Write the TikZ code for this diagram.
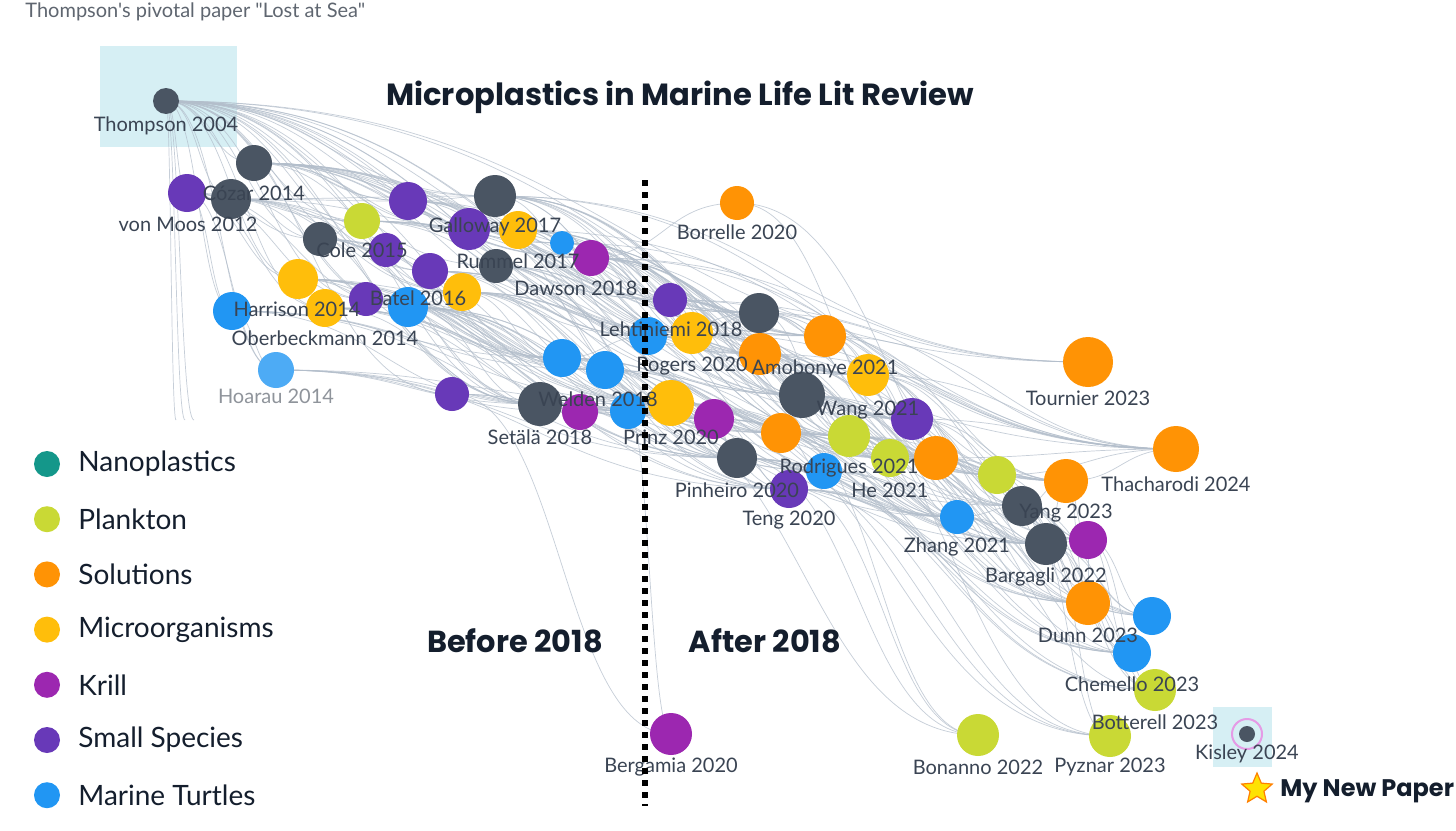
\documentclass[tikz,border=0pt]{standalone}
\usepackage{fontspec}
\setmainfont{Lato}
\newfontfamily\headfont{Poppins}
\newfontfamily\capfont{Lato}[Ligatures=TeXOff]
\usetikzlibrary{calc,backgrounds,shapes.geometric}
\definecolor{cdark}{HTML}{4A5563}
\definecolor{clime}{HTML}{C9D935}
\definecolor{corange}{HTML}{FF9305}
\definecolor{cyellow}{HTML}{FFBE0B}
\definecolor{ckrill}{HTML}{9C27B0}
\definecolor{csmall}{HTML}{6839B8}
\definecolor{cblue}{HTML}{2196F3}
\definecolor{cteal}{HTML}{14978A}
\definecolor{cedge}{HTML}{B3BECB}
\definecolor{ctext}{HTML}{3A4453}
\definecolor{cnavy}{HTML}{141E2D}
\definecolor{chl}{HTML}{D6EFF4}
\definecolor{cring}{HTML}{E59BE6}
\definecolor{cgraytxt}{HTML}{5F6670}
\newcommand\mknode[5]{\node[paper,fill=#4,minimum size=#5pt] (#1) at (#2,#3) {};}
\newcommand\mklab[4]{\node[lab] (#1) at (#2,#3) {#4};}
\newcommand\ed[2]{\draw[edge] let \p1=(#1), \p2=(#2) in (\p1) .. controls ({0.5*\x1+0.5*\x2},\y1) and ({0.5*\x1+0.5*\x2},\y2) .. (\p2);}
\tikzset{
  paper/.style={circle,inner sep=0pt,draw=none},
  lab/.style={font=\fontsize{10}{12}\selectfont,text=ctext,inner sep=0pt},
  edge/.style={draw=cedge,line width=0.35pt,opacity=0.75},
  legdot/.style={circle,inner sep=0pt,minimum size=13pt},
  legtxt/.style={anchor=west,font=\fontsize{14}{16}\selectfont,text=cnavy,inner sep=0pt},
  big/.style={font=\headfont\bfseries\fontsize{15.2}{17}\selectfont,text=cnavy,inner sep=0pt},
  hl/.style={fill=chl,draw=none}
}
\begin{document}
\begin{tikzpicture}[x=0.5pt,y=-0.5pt]
\useasboundingbox (0,0) rectangle (1456,830);
% ---- paper nodes ----
\mknode{th}{166}{101}{cdark}{13}
\mknode{cz}{254}{163}{cdark}{18}
\mknode{vm}{187}{193}{csmall}{19}
\mknode{d4}{231}{199}{cdark}{20}
\mknode{p1}{408}{201}{csmall}{19}
\mknode{ga}{495}{196}{cdark}{21}
\mknode{co}{362}{221}{clime}{18}
\mknode{g2}{469}{229}{csmall}{21}
\mknode{ru}{518}{230}{cyellow}{19}
\mknode{da}{562}{243}{cblue}{12}
\mknode{k1}{591}{258}{ckrill}{18}
\mknode{d3}{320}{239}{cdark}{17}
\mknode{p4}{386}{250}{csmall}{17}
\mknode{d5}{496}{266}{cdark}{17}
\mknode{bt}{430}{271}{csmall}{18}
\mknode{hr}{298}{279}{cyellow}{20}
\mknode{ob}{325}{308}{cyellow}{19}
\mknode{p5}{366}{299}{csmall}{17}
\mknode{b2}{408}{307}{cblue}{20}
\mknode{y4}{462}{292}{cyellow}{19}
\mknode{b3}{232}{311}{cblue}{19}
\mknode{ho}{276}{370}{cblue!80!white}{18}
\mknode{p6}{452}{394}{csmall}{17}
\mknode{se}{540}{404}{cdark}{22}
\mknode{k2}{580}{412}{ckrill}{18}
\mknode{b4}{562}{358}{cblue}{19}
\mknode{we}{605}{370}{cblue}{19}
\mknode{b5}{628}{411}{cblue}{18}
\mknode{pr}{671}{403}{cyellow}{23}
\mknode{k3}{714}{419}{ckrill}{20}
\mknode{le}{670}{300}{csmall}{17}
\mknode{b6}{648}{336}{cblue}{19}
\mknode{rg}{692}{333}{cyellow}{21}
\mknode{d6}{759}{313}{cdark}{20}
\mknode{o1}{760}{354}{corange}{21}
\mknode{am}{825}{336}{corange}{21}
\mknode{wa}{868}{375}{cyellow}{21}
\mknode{d7}{802}{395}{cdark}{23}
\mknode{o2}{781}{433}{corange}{20}
\mknode{rd}{849}{436}{clime}{21}
\mknode{p7}{912}{419}{csmall}{21}
\mknode{he}{890}{458}{clime}{19}
\mknode{o3}{936}{458}{corange}{22}
\mknode{pin}{737}{458}{cdark}{20}
\mknode{b7}{824}{471}{cblue}{18}
\mknode{te}{789}{489}{csmall}{19}
\mknode{l2}{997}{475}{clime}{19}
\mknode{bo}{737}{203}{corange}{17}
\mknode{tou}{1088}{362}{corange}{25}
\mknode{tc}{1176}{449}{corange}{23}
\mknode{ya}{1066}{481}{corange}{22}
\mknode{d8}{1022}{506}{cdark}{20}
\mknode{zh}{957}{517}{cblue}{17}
\mknode{bg}{1046}{544}{cdark}{21}
\mknode{k4}{1088}{540}{ckrill}{19}
\mknode{du}{1088}{603}{corange}{22}
\mknode{b8}{1152}{616}{cblue}{19}
\mknode{ch}{1132}{653}{cblue}{19}
\mknode{bl}{1155}{690}{clime}{21}
\mknode{bn}{978}{735}{clime}{21}
\mknode{py}{1110}{736}{clime}{21}
\mknode{bm}{671}{734}{ckrill}{21}
\node[circle,draw=cring,line width=1pt,minimum size=15pt,inner sep=0pt] (kir) at (1247,734) {};
\mknode{ki}{1247}{734}{cdark}{8}
\coordinate (c1) at (176,420);
\coordinate (c2) at (185,420);
\coordinate (c3) at (194,420);
% ---- labels ----
\mklab{Lth}{166}{126}{Thompson 2004}
\mklab{Lcz}{254}{193}{Cózar 2014}
\mklab{Lvm}{188}{224}{von Moos 2012}
\mklab{Lga}{495}{227}{Galloway 2017}
\mklab{Lco}{362}{250}{Cole 2015}
\mklab{Lru}{518}{261}{Rummel 2017}
\mklab{Lda}{576}{288}{Dawson 2018}
\mklab{Lhr}{297}{309}{Harrison 2014}
\mklab{Lbt}{418}{298}{Batel 2016}
\mklab{Lob}{325}{338}{Oberbeckmann 2014}
\node[lab,text=cgraytxt!70!white] (Lho) at (276,396) {Hoarau 2014};
\mklab{Lse}{540}{437}{Setälä 2018}
\mklab{Lwe}{598}{399}{Welden 2018}
\mklab{Lpr}{671}{437}{Prinz 2020}
\mklab{Lle}{671}{329}{Lehtiniemi 2018}
\mklab{Lrg}{692}{366}{Rogers 2020}
\mklab{Lbo}{737}{232}{Borrelle 2020}
\mklab{Lam}{825}{369}{Amobonye 2021}
\mklab{Lwa}{868}{410}{Wang 2021}
\mklab{Lrd}{849}{468}{Rodrigues 2021}
\mklab{Lhe}{890}{490}{He 2021}
\mklab{Lpin}{737}{490}{Pinheiro 2020}
\mklab{Lte}{789}{520}{Teng 2020}
\mklab{Lzh}{957}{547}{Zhang 2021}
\mklab{Ltou}{1088}{398}{Tournier 2023}
\mklab{Ltc}{1176}{484}{Thacharodi 2024}
\mklab{Lya}{1066}{513}{Yang 2023}
\mklab{Lbg}{1046}{577}{Bargagli 2022}
\mklab{Ldu}{1088}{635}{Dunn 2023}
\mklab{Lch}{1132}{684}{Chemello 2023}
\mklab{Lbl}{1155}{722}{Botterell 2023}
\mklab{Lbn}{978}{767}{Bonanno 2022}
\mklab{Lpy}{1110}{767}{Pyznar 2023}
\mklab{Lki}{1247}{754}{Kisley 2024}
\mklab{Lbm}{671}{767}{Bergamia 2020}
% ---- titles ----
\node[anchor=west,font=\capfont\fontsize{10}{12}\selectfont,text=cgraytxt,inner sep=0pt] (cap) at (25,12) {Thompson's pivotal paper "Lost at Sea"};
\node[font=\headfont\bfseries\fontsize{15.3}{17}\selectfont,text=cnavy,inner sep=0pt] (title) at (680,97) {Microplastics in Marine Life Lit Review};
\node[big] (before) at (515,641) {Before 2018};
\node[big] (after) at (765,641) {After 2018};
\coordinate (dtop) at (645,180);
\coordinate (dbot) at (645,806);
\draw[line width=3pt,dash pattern=on 3pt off 3pt,black] (dtop) -- (dbot);
% ---- legend ----
\foreach \c/\t [count=\i from 0] in {cteal/Nanoplastics,clime/Plankton,corange/Solutions,cyellow/Microorganisms,ckrill/Krill,csmall/Small Species,cblue/Marine Turtles}{
  \node[legdot,fill=\c] (ld\i) at (47,{464+55.2*\i}) {};
  \node[legtxt] (lt\i) at (78,{464+55.2*\i}) {\t};
}
% ---- my new paper ----
\node[star,star points=5,star point ratio=2.2,fill=yellow!85!orange,draw=orange,line width=0.6pt,minimum size=16pt,inner sep=0pt] (star) at (1257,789) {};
\node[anchor=west,font=\headfont\bfseries\fontsize{12}{14}\selectfont,text=cnavy,inner sep=0pt] (mnp) at (1280,791) {My New Paper};
% ---- background: highlights and edges ----
\begin{pgfonlayer}{background}
\fill[white] (0,0) rectangle (1456,830);
\fill[hl] (100,46) rectangle (237,147);
\fill[hl] (1213,707) rectangle (1272,767);
\foreach \s/\ts in {
th/{cz,vm,d4,p1,ga,co,g2,ru,da,k1,d3,p4,d5,bt,hr,ob,p5,b2,y4,b3,ho,p6,se,b4,we,le,rg,d6,o1,am,wa,d7,tc,tou,c1,c2,c3},
cz/{p1,ga,g2,ru,da,k1,le,rg,d6,am,wa,d7,p7,o3,b6,we,se},
vm/{hr,ob,b3,ho,d3,co,b2,p5},
d4/{p1,ga,co,ru,b2,y4,b4,se,we,pr},
d3/{co,p4,bt,b2,y4,se,we,b5,pr},
co/{g2,ru,k1,b6,rg,d6,am},
p1/{ga,ru,da,k1,le,rg,d6,o1},
ga/{k1,le,rg,d6,o1,am,wa,d7,p7,rd,o3,tc,tou},
g2/{k1,b6,rg,d6,pr,d7},
ru/{k1,le,b6,rg,o1,am,wa,rd,p7,he,o3,tc},
da/{le,rg,d6,o1,am,d7,wa,p7,tc},
k1/{le,rg,d6,am,wa,d7,rd,p7,he,o3,l2,tc,tou,bo},
d5/{b6,rg,pr,k3,d7,o2,rd,pin},
bt/{b6,rg,pr,k3,o1,d7,rd},
hr/{b2,y4,b4,se,we,b5,pr,k3,pin},
ob/{b2,b4,se,we,b5,pr,pin,te},
p5/{y4,b4,se,we,pr,k3,o2},
b2/{y4,b4,se,k2,we,b5,pr,k3,o2,pin,b7,te},
y4/{b4,we,b6,rg,pr,k3,d7,o2,rd,pin,te},
b3/{ho,se,b4,we,pr,pin},
ho/{se,k2,b5,pr,pin,te},
p6/{se,bm,pin,te},
se/{pr,k3,pin,o2,b7,te,zh,d8,bg},
k2/{pr,k3,pin,te},
b4/{b6,pr,k3,pin,o2,rd,b7,he,zh},
we/{pr,k3,pin,o2,b7,te,rd,zh,bg},
b5/{pr,k3,pin,te,b7,bn,bm},
pr/{k3,pin,o2,b7,te,rd,he,zh,d8,bg,du,py},
k3/{pin,o2,b7,te,zh,bg,ch,bl},
le/{rg,d6,o1,am,wa,d7,p7,o3,tc,tou},
b6/{rg,d6,o1,d7,o2,rd,he,zh,l2,d8},
rg/{d6,am,wa,d7,rd,p7,he,o3,l2,ya,tc,d8},
d6/{am,wa,rd,p7,o3,l2,ya,tc},
o1/{wa,d7,rd,he,o3,ya,tc,zh,du},
am/{wa,p7,o3,l2,ya,tc},
wa/{p7,o3,l2,ya,tc,d8,bg,k4},
d7/{rd,p7,he,o3,l2,ya,d8,zh,bg,k4,du,b8,py},
o2/{b7,rd,he,zh,bg,du,ch,bn},
rd/{he,o3,l2,ya,d8,zh,bg,k4,du,b8,ch},
p7/{o3,l2,ya,tc,d8,k4},
he/{o3,l2,ya,d8,zh,bg,du,bl},
o3/{l2,ya,tc,d8,bg,k4,du,b8},
pin/{b7,te,zh,bg,du,ch,bl,bn,py},
b7/{zh,bg,du,ch},
te/{zh,bg,du,ch,bl,bn,py},
l2/{ya,d8,bg,k4,tc,du},
zh/{d8,bg,du,b8,ch},
ya/{tc,d8,bg,k4,du},
d8/{bg,k4,du,b8,ch,bl,py},
bg/{du,b8,ch,bl,py,k4},
k4/{du,b8,ch,bl},
du/{b8,ch,bl},
bo/{o3,bg}}{
  \foreach \t in \ts {\ed{\s}{\t}}
}
\end{pgfonlayer}
\end{tikzpicture}
\end{document}
